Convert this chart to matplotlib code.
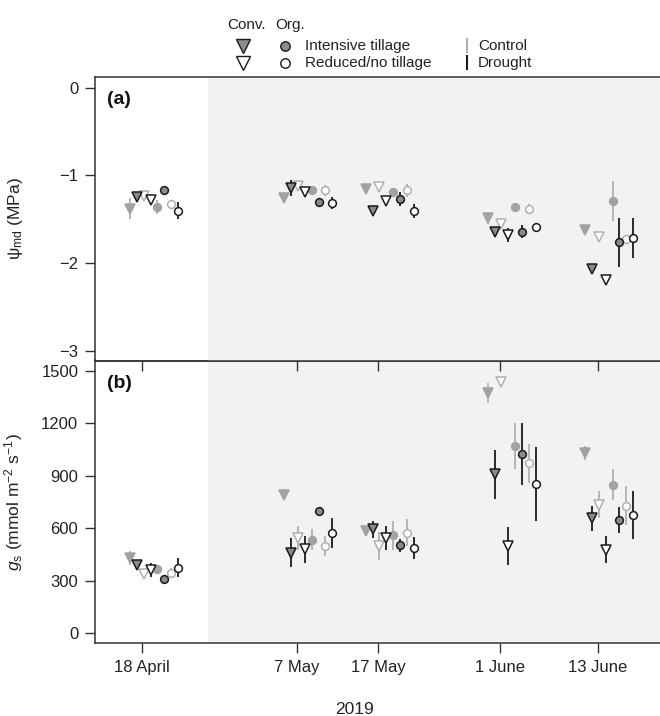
import numpy as np
import matplotlib
matplotlib.use("Agg")
import matplotlib.pyplot as plt

plt.rcParams['font.family'] = ['Liberation Sans', 'DejaVu Sans']
plt.rcParams['mathtext.fontset'] = 'custom'
plt.rcParams['mathtext.rm'] = 'Liberation Sans'
plt.rcParams['mathtext.it'] = 'Liberation Sans:italic'

# ---------------- data ----------------
date_labels = ["18 April", "7 May", "17 May", "1 June", "13 June"]
date_doy = [108, 127, 137, 152, 164]          # day of year 2019

# order of series within a date group
series = ["conv_int_ctrl", "conv_int_drt", "conv_red_ctrl", "conv_red_drt",
          "org_int_ctrl", "org_int_drt", "org_red_ctrl", "org_red_drt"]

# midday water potential (MPa), mean and error
psi_conv_int_ctrl = [-1.38, -1.26, -1.15, -1.49, -1.62]
psi_conv_int_drt  = [-1.25, -1.14, -1.41, -1.64, -2.06]
psi_conv_red_ctrl = [-1.23, -1.12, -1.13, -1.55, -1.70]
psi_conv_red_drt  = [-1.28, -1.19, -1.29, -1.68, -2.19]
psi_org_int_ctrl  = [-1.36, -1.17, -1.19, -1.36, -1.29]
psi_org_int_drt   = [-1.17, -1.30, -1.27, -1.64, -1.76]
psi_org_red_ctrl  = [-1.32, -1.17, -1.17, -1.38, -1.72]
psi_org_red_drt   = [-1.40, -1.31, -1.41, -1.59, -1.71]

psie_conv_int_ctrl = [0.12, 0.03, 0.03, 0.06, 0.04]
psie_conv_int_drt  = [0.05, 0.09, 0.03, 0.05, 0.04]
psie_conv_red_ctrl = [0.03, 0.05, 0.04, 0.03, 0.03]
psie_conv_red_drt  = [0.04, 0.03, 0.05, 0.08, 0.03]
psie_org_int_ctrl  = [0.08, 0.05, 0.05, 0.03, 0.23]
psie_org_int_drt   = [0.03, 0.03, 0.08, 0.07, 0.28]
psie_org_red_ctrl  = [0.04, 0.06, 0.07, 0.06, 0.04]
psie_org_red_drt   = [0.10, 0.07, 0.08, 0.03, 0.23]

# stomatal conductance (mmol m-2 s-1), mean and error
gs_conv_int_ctrl = [430, 791, 585, 1375, 1030]
gs_conv_int_drt  = [390, 460, 595, 910, 658]
gs_conv_red_ctrl = [340, 545, 500, 1437, 736]
gs_conv_red_drt  = [365, 480, 545, 500, 479]
gs_org_int_ctrl  = [370, 535, 560, 1072, 851]
gs_org_int_drt   = [310, 701, 503, 1025, 650]
gs_org_red_ctrl  = [345, 500, 576, 972, 730]
gs_org_red_drt   = [375, 575, 486, 854, 678]

gse_conv_int_ctrl = [40, 25, 15, 57, 40]
gse_conv_int_drt  = [30, 83, 50, 140, 72]
gse_conv_red_ctrl = [20, 70, 80, 15, 78]
gse_conv_red_drt  = [40, 76, 69, 108, 79]
gse_org_int_ctrl  = [20, 60, 83, 132, 89]
gse_org_int_drt   = [25, 15, 36, 176, 75]
gse_org_red_ctrl  = [30, 57, 76, 111, 111]
gse_org_red_drt   = [55, 87, 63, 210, 136]

psi_means = [psi_conv_int_ctrl, psi_conv_int_drt, psi_conv_red_ctrl, psi_conv_red_drt,
             psi_org_int_ctrl, psi_org_int_drt, psi_org_red_ctrl, psi_org_red_drt]
psi_errs = [psie_conv_int_ctrl, psie_conv_int_drt, psie_conv_red_ctrl, psie_conv_red_drt,
            psie_org_int_ctrl, psie_org_int_drt, psie_org_red_ctrl, psie_org_red_drt]
gs_means = [gs_conv_int_ctrl, gs_conv_int_drt, gs_conv_red_ctrl, gs_conv_red_drt,
            gs_org_int_ctrl, gs_org_int_drt, gs_org_red_ctrl, gs_org_red_drt]
gs_errs = [gse_conv_int_ctrl, gse_conv_int_drt, gse_conv_red_ctrl, gse_conv_red_drt,
           gse_org_int_ctrl, gse_org_int_drt, gse_org_red_ctrl, gse_org_red_drt]

# ---------------- styles ----------------
CTRL_FILL = "#a2a2a2"
DRT_FILL = "#8a8a8a"
LIGHT = "#b0b0b0"
DARK = "#1a1a1a"
SHADE = "#f2f2f2"

styles = []
for s in series:
    marker = 'v' if s.startswith('conv') else 'o'
    ms = 7.5 if marker == 'v' else 5.6
    filled = '_int_' in s
    drought = s.endswith('drt')
    if filled:
        face = DRT_FILL if drought else CTRL_FILL
    else:
        face = 'white'
    edge = DARK if drought else (CTRL_FILL if filled else LIGHT)
    ecol = DARK if drought else LIGHT
    styles.append(dict(marker=marker, ms=ms, face=face, edge=edge, ecol=ecol))

offsets = -1.513 + 0.84 * np.arange(len(series))

# ---------------- figure ----------------
W, H = 660, 716
fig = plt.figure(figsize=(W / 100, H / 100), dpi=100)

left = 95 / W
right = 1.0
top_a, bot_a = 76.7, 360.5
top_b, bot_b = 360.5, 643.0
ax_a = fig.add_axes([left, 1 - bot_a / H, right - left, (bot_a - top_a) / H])
ax_b = fig.add_axes([left, 1 - bot_b / H, right - left, (bot_b - top_b) / H])
ax_a.set_zorder(3)
ax_a.patch.set_alpha(0)

xlim = (102.18, 171.68)
shade_start = 116.1

def draw(ax, means, errs):
    ax.axvspan(shade_start, xlim[1] + 5, color=SHADE, lw=0, zorder=0)
    for i, st in enumerate(styles):
        x = np.array(date_doy) + offsets[i]
        dk = 1 if st['ecol'] == DARK else 0
        ax.errorbar(x, means[i], yerr=errs[i], fmt='none', ecolor=st['ecol'],
                    elinewidth=1.3, capsize=0, zorder=2 + dk)
        ax.plot(x, means[i], linestyle='none', marker=st['marker'], ms=st['ms'],
                mfc=st['face'], mec=st['edge'], mew=1.1, zorder=4 + dk)
    ax.set_xlim(*xlim)
    ax.set_xticks(date_doy)
    for sp in ['left', 'top', 'bottom']:
        ax.spines[sp].set_linewidth(1.1)
        ax.spines[sp].set_color('#333333')
    ax.spines['right'].set_visible(False)
    ax.tick_params(axis='both', direction='out', length=7, width=1.0,
                   color='#333333', labelsize=12, labelcolor='#222222', pad=5)

draw(ax_a, psi_means, psi_errs)
draw(ax_b, gs_means, gs_errs)

ax_a.set_ylim(-3.108, 0.125)
ax_a.set_yticks([0, -1, -2, -3])
ax_a.set_yticklabels(['0', '\u22121', '\u22122', '\u22123'])
ax_a.set_xticklabels([])

ax_b.set_ylim(-55, 1560)
ax_b.set_yticks([0, 300, 600, 900, 1200, 1500])
ax_b.set_xticklabels(date_labels)

ax_a.set_ylabel('\u03c8$_{\\mathrm{md}}$ (MPa)', fontsize=12.5, color='#222222')
ax_b.set_ylabel('$g_{\\mathrm{s}}$ (mmol m$^{-2}$ s$^{-1}$)', fontsize=12.5,
                color='#222222')
lab_x = (25 / W - left) / (right - left)
ax_a.yaxis.set_label_coords(lab_x, 0.5)
ax_b.yaxis.set_label_coords(lab_x, 0.5)

fig.text(107 / W, 1 - 99 / H, '(a)', fontsize=14, fontweight='bold',
         va='center', ha='left', color='#111111', zorder=10)
fig.text(107 / W, 1 - 383 / H, '(b)', fontsize=14, fontweight='bold',
         va='center', ha='left', color='#111111', zorder=10)

fig.text(355 / W, 1 - 709 / H, '2019', ha='center', va='center', fontsize=12.5,
         color='#222222')

# ---------------- legend (figure overlay) ----------------
lax = fig.add_axes([0, 0, 1, 1])
lax.set_xlim(0, W)
lax.set_ylim(H, 0)
lax.axis('off')
lax.set_zorder(5)
r1, r2 = 46, 63.3
xt, xc = 243.3, 285
lax.text(xt + 3, 25, 'Conv.', ha='center', va='center', fontsize=11, color='#222222')
lax.text(xc + 5, 25, 'Org.', ha='center', va='center', fontsize=11, color='#222222')
lax.plot([xt], [r1], marker='v', ms=9.5, mfc='#8c8c8c', mec=DARK, mew=1.0, ls='none')
lax.plot([xt], [r2], marker='v', ms=9.5, mfc='white', mec=DARK, mew=1.0, ls='none')
lax.plot([xc], [r1], marker='o', ms=6.8, mfc='#8c8c8c', mec=DARK, mew=1.0, ls='none')
lax.plot([xc], [r2], marker='o', ms=6.8, mfc='white', mec=DARK, mew=1.0, ls='none')
lax.text(305, r1, 'Intensive tillage', ha='left', va='center', fontsize=11, color='#222222')
lax.text(305, r2, 'Reduced/no tillage', ha='left', va='center', fontsize=11, color='#222222')
lax.plot([466.7, 466.7], [r1 - 7, r1 + 6], color=LIGHT, lw=1.5)
lax.plot([466.7, 466.7], [r2 - 7, r2 + 6], color=DARK, lw=1.5)
lax.text(478, r1, 'Control', ha='left', va='center', fontsize=11, color='#222222')
lax.text(478, r2, 'Drought', ha='left', va='center', fontsize=11, color='#222222')

fig.savefig('out.png', dpi=100, facecolor='white')
